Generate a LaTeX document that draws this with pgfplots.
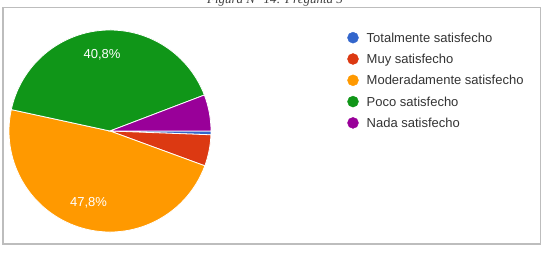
\documentclass[border=0pt]{standalone}
\usepackage{pgfplots}
\usepackage{pgfplotstable}
\pgfplotsset{compat=1.18}
\usepackage{fontspec}
\setmainfont{Liberation Sans}
\newfontfamily\capfont{Liberation Serif}
\definecolor{gblue}{HTML}{3366CC}
\definecolor{gred}{HTML}{DC3912}
\definecolor{gorange}{HTML}{FF9900}
\definecolor{ggreen}{HTML}{109618}
\definecolor{gpurple}{HTML}{990099}
\definecolor{legtext}{HTML}{333333}
\definecolor{framegray}{HTML}{BDBDBD}

% share of each answer (%), clockwise from 3 o'clock
\pgfplotstableread{
val  col
0.6  gblue
5.0  gred
47.8 gorange
40.8 ggreen
5.8  gpurple
}\piedata

\begin{document}
\begin{tikzpicture}
\begin{axis}[
  at={(0,0)}, anchor=south west,
  scale only axis, width=544pt, height=257pt,
  xmin=0, xmax=544, ymin=0, ymax=257,
  hide axis, clip=false,
]
% frame
\draw[framegray, line width=1.5pt] (axis cs:3,249.5) rectangle (axis cs:540.5,13);
% caption (cut at top)
\node[anchor=base, font=\capfont\itshape\fontsize{13}{13}\selectfont, text=black!75] at (axis cs:275,253) {Figura N° 14: Pregunta 5};
% pie slices
\def\cum{0}
\pgfplotsforeachungrouped \i in {0,...,4}{%
  \pgfplotstablegetelem{\i}{val}\of\piedata
  \let\v\pgfplotsretval
  \pgfmathsetmacro\sa{-3.6*\cum}
  \pgfmathsetmacro\ea{-3.6*(\cum+\v)}
  \pgfmathsetmacro\cum{\cum+\v}
  \pgfplotstablegetelem{\i}{col}\of\piedata
  \edef\temp{\noexpand\filldraw[fill=\pgfplotsretval, draw=white, line width=0.8pt] (axis cs:110,126) -- ++(\sa:101pt) arc[start angle=\sa, end angle=\ea, radius=101pt] -- cycle;}
  \temp
}
% slice labels
\node[anchor=base, text=white, font=\fontsize{13}{13}\selectfont] at (axis cs:102,198) {40,8\%};
\node[anchor=base, text=white, font=\fontsize{13}{13}\selectfont] at (axis cs:88.5,50) {47,8\%};
% legend markers
\addplot[only marks, mark=*, mark size=5.5pt, color=gblue] coordinates {(353,219.3)};
\addplot[only marks, mark=*, mark size=5.5pt, color=gred] coordinates {(353,198)};
\addplot[only marks, mark=*, mark size=5.5pt, color=gorange] coordinates {(353,176.7)};
\addplot[only marks, mark=*, mark size=5.5pt, color=ggreen] coordinates {(353,155.4)};
\addplot[only marks, mark=*, mark size=5.5pt, color=gpurple] coordinates {(353,134.1)};
\begin{scope}[every node/.style={anchor=base west, inner sep=0pt, text=legtext, font=\fontsize{13}{13}\selectfont}]
\node at (axis cs:366.5,214.7) {Totalmente satisfecho};
\node at (axis cs:366.5,193.4) {Muy satisfecho};
\node at (axis cs:366.5,172.1) {Moderadamente satisfecho};
\node at (axis cs:366.5,150.8) {Poco satisfecho};
\node at (axis cs:366.5,129.5) {Nada satisfecho};
\end{scope}
\end{axis}
\pgfresetboundingbox
\useasboundingbox (0,0) rectangle (544pt,257pt);
\end{tikzpicture}
\end{document}
